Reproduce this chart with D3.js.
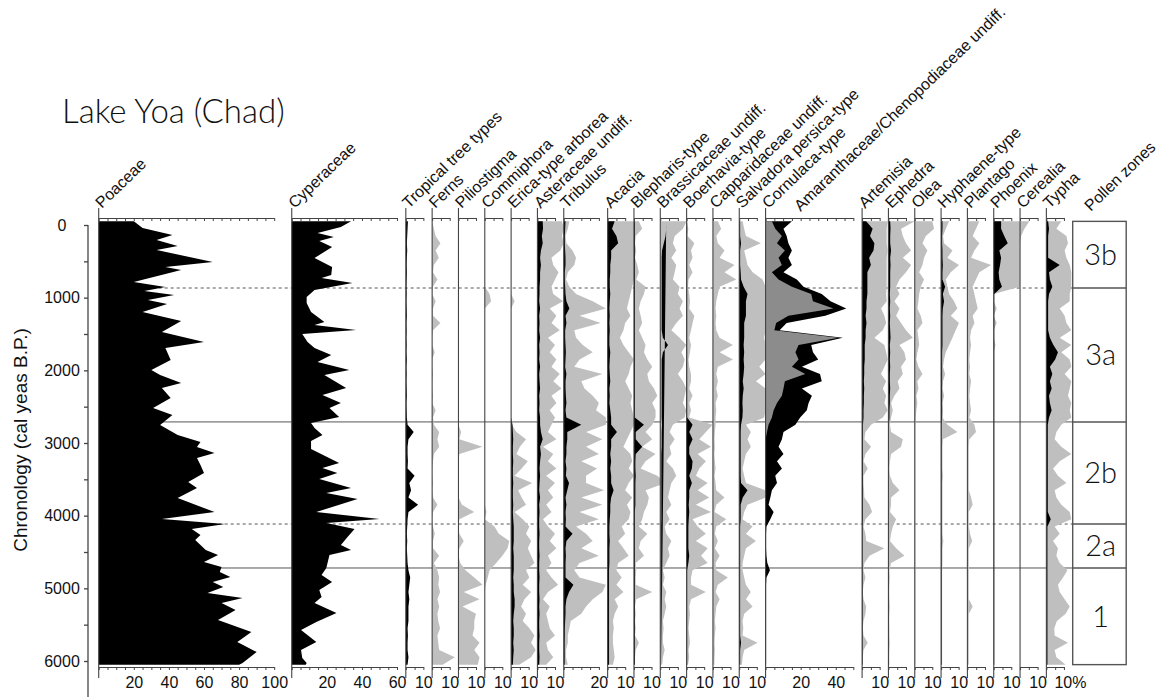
<!DOCTYPE html>
<html>
<head>
<meta charset="utf-8">
<script src="https://d3js.org/d3.v7.min.js"></script>
<style>
body { margin: 0; background: #fff; }
text { font-family: "Liberation Sans", Arial, sans-serif; fill: #111; }
.title, .zone { font-family: Lato, "DejaVu Sans", sans-serif; font-weight: 300; }
</style>
</head>
<body>
<div id="chart"></div>
<script>
// sample ages (cal yr BP) shared by the minor taxa
var ages = [-50,50,150,250,350,450,550,650,750,850,950,1050,1150,1250,1350,1450,1550,1650,1750,1850,1950,2050,2150,2250,2350,2450,2550,2650,2750,2850,2950,3050,3150,3250,3350,3450,3550,3650,3750,3850,3950,4050,4150,4250,4350,4450,4550,4650,4750,4850,4950,5050,5150,5250,5350,5450,5550,5650,5750,5850,5950,6050];

// main taxa have their own (denser) sample ages
var poaAge = [-50,41,138,206,289,344,509,578,619,784,853,908,963,1032,1087,1197,1321,1472,1610,1693,1858,1995,2064,2174,2243,2381,2518,2615,2752,2890,2986,3055,3137,3206,3303,3413,3537,3619,3757,3950,4046,4115,4183,4266,4335,4472,4541,4637,4706,4775,4844,4912,4981,5064,5133,5202,5298,5436,5601,5738,5876,6027,6050];
var poaceae = [20,25,42,33,45,33,65,38,47,20,38,26,43,28,39,25,47,36,60,38,41,30,35,47,36,41,31,42,35,45,58,56,66,56,58,60,51,56,45,66,36,72,53,58,55,61,68,60,70,69,75,65,71,62,82,70,78,68,87,79,90,82,80];

var cypAge = [-50,28,110,165,220,303,454,578,688,729,798,894,991,1073,1197,1335,1376,1445,1500,1610,1693,1789,1885,1995,2064,2243,2339,2449,2518,2642,2725,2793,2890,2972,3082,3275,3344,3413,3495,3619,3688,3770,3950,4046,4101,4183,4293,4403,4472,4541,4720,4816,4912,5023,5119,5202,5339,5463,5573,5738,5848,5958,6027,6050];
var cyperaceae = [33.8,28,14.7,24,15.7,23,13,23,22.5,17,34.6,13,8.5,8.5,11,18.6,13,36.7,6,9,13,22.5,14.7,32.8,18.6,31,17.5,28,21.5,27,11,13,17.5,11,11,27,17.5,26,15.7,33.8,19.7,37.5,14,50,19.7,35.8,31.8,28,33.8,21.5,19.7,17,23,15.7,17,13,25.5,14,5.3,14,5.3,6,8.5,8];

// minor taxa: black = percentage, gray = exaggerated curve
var tropical = [1.2,1,0.8,0.6,0.8,0.6,0.5,0.6,0.5,0.4,0.5,0.4,0.5,0.6,0.4,0.5,0.4,0.5,0.4,0.6,0.4,0.5,0.4,0.5,0.6,0.4,0.5,0.6,1,4.5,1.5,1,1,1.2,1,5,2,3,1.5,7,1.5,1,0.8,0.6,0.8,0.6,0.8,1,1.5,2.5,2,1.5,2,1.5,1.5,1.5,1,1.2,1,1,1.5,1];
var fernsG = [0,1,2,4.7,2,3.8,1,0.5,3,0.5,0,2,0.5,0.5,4.7,0.5,0,0,1.5,0,0,0.5,0,0,0.5,0,2,0.5,1,4,3,4,1,0.5,0,0,0.5,0,0.5,3,0.5,0,0.5,1.5,0.5,0.5,4,1,3,4,3.5,4.5,3,4,3,3.5,4.5,3,3.5,4,13,6];
var pilioG = [0,0,0,0,0,0,0,0,0,0,0,0,0,0,0,0,0,0,0,0,0,0,0,0,0,0,0,0,0,1.5,0.5,13.7,0.5,0,0,0,0,0,0,2,9,0.5,0,0.5,3,0.5,0,1,4,9,13.7,3,12,2.3,10,9,9,8,12,9,12,11];
var commiG = [0,0,0,0,0,0,0,0,0,0,2.7,3.6,0,0,0,0,0,0,0,0,0,0,0,0,0,0,0,0,0,0,0,0,0,0,0,0,0,0,0,0,1,0,5.5,8,14,13,10,6.5,2.7,1.7,0.5,0,0,0,0,0,0,0,0,0,0,0];
var ericaG = [0,0,0,0,0,0,0,0,0,0,0,2,0,0,0,0,0,0,0,0,0,0,0,0,0,0,0,0,0.5,3,8.5,5,3,9.5,6,2,12,4,6,8.5,2,6.6,10.4,8.5,11.4,9.5,11.4,13.3,8.5,10.4,6.6,11.4,7.6,5.7,8.5,6.6,10.4,13.3,11.4,14,11.4,4.7];
var ericaB = [0,0,0,0,0,0,0,0,0,0,0,0,0,0,0,0,0,0,0,0,0,0,0,0,0,0,0,0,0.8,1,1.2,1,1,1.2,1,1,1.2,1,1,1.2,1,1.2,1.5,1.5,1.5,1.2,1.5,1.5,1.5,1.2,1.5,1.5,2,2,1.5,1.2,1.5,1.5,1.2,1.5,1.2,1];
var asterG = [14,15,14,15,13,8,9,12,10,8,9,14.6,7,10.8,8,12.7,6,10,7,10.8,8,12.7,9,13.7,8,10.8,7,10,8,6,10.8,3.2,9,6,10.8,5,10,6,9,5,8,3.2,6,10,7,10.8,6,8,5,8,11.8,6,3.2,7,5,6,7,10,5,6,9,5];
var asterB = [3,3.2,2.5,3,2,1.5,2,1.5,1.5,1.2,1.2,1,1.5,1,1.2,1,1.5,1,1.2,1,1.5,1,1.2,1.5,1,1.2,1,1.5,1.5,2,3,1.5,2,1.5,1.2,1.5,1.2,1,1.5,1,1.2,1,1,1.2,1,1,1.2,1,1,1.2,1,1,1.2,1,1.2,1,1,1.2,1,1,1.2,1];
var tribG = [3.2,2.3,1,1.5,5,7,6,2.3,1.3,3.2,7,16.5,24,9,21,6,7,10.8,16.5,9,6,22,10,11.8,16.5,20,18.4,24,24,12.7,22,12.7,20,10,19,12.7,12.7,23,10,22,9,20,7,12.7,16.5,10,20,9,6,9,24,22,16.5,12.7,10,4,3.2,2.3,2.3,1.3,1.3,2.3];
var tribB = [1,0.8,0.6,0.6,0.8,1,1,0.6,0.6,0.8,1,1.5,3.2,1,1.5,0.8,0.8,1,1.2,1,0.8,1.5,1,1,1.2,1.5,1,1.5,10,2,2,1.5,1.5,1,1.5,1.2,3,2,1,1.5,1,1.2,1,5,1.5,1,1.2,1,1,1,5.5,3,1.5,1,1,0.8,0.6,0.6,0.5,0.5,0.5,0.5];
var acaciaG = [15,15,15,15,15,15,15,15,15,14,13,12,11,13,10,9,7,9,12,15,13,12,10,12,14,13,14,15,15,13,11,9,13,14,12,15,12,10,14,11,13,12,8,10,6,9,12,6,5,8,5,9,4,6,4,3,3.5,3,3,3.5,4,3];
var acaciaB = [4,2.5,5,6,2,2,1.5,1.5,1.2,1.2,1.5,1.2,1,1.2,1,1.2,1,1,1.5,1.2,1,1.2,1.5,1,1.2,1,1.5,2,2,5.3,2,2,1.5,2,1.5,2,2,3.4,2,1.5,1.5,1.2,1,1,1.2,1,1,1,0.8,0.8,0.8,0.8,0.8,0.8,0.8,0.8,0.8,0.8,0.8,0.8,0.8,0.8];
var blephG = [2.8,4.7,1,0.6,1.3,0.6,1.9,2.8,1.3,6.6,5.7,3.8,2.8,3.8,4.7,2.8,4.7,6.6,5.7,7.6,10.4,7.6,8.5,11.4,13.3,10.4,12.3,12.3,10.4,6.6,10.4,4.7,12.3,6.6,3.8,13.3,18,6.6,8.5,7.6,5.7,4.7,2.8,7.6,3.8,2.8,5.7,1,1.3,1,1,10.4,1.3,0.6,1,0.6,1,0.6,2.8,1,0.6,0.6];
var blephB = [0.5,0.5,0.5,0.5,0.5,0.5,0.5,0.5,0.5,0.5,0.5,0.5,0.5,0.5,0.5,0.5,0.5,0.5,0.5,0.5,0.5,0.5,0.5,0.5,0.5,0.5,0.5,0.5,5.7,1,1,4.7,1,0.8,0.8,1,0.8,0.8,0.8,0.8,0.5,0.5,0.5,0.5,0.5,0.5,0.5,0.5,0.5,0.5,0.5,0.5,0.5,0.5,0.5,0.5,0.5,0.5,0.5,0.5,0.5,0.5];
var brassG = [15,12.9,8.2,7.2,9.1,6.3,9.1,8.2,7.2,11,10,12.9,11,12.9,9.1,6.3,11,14.8,12,13.9,12.9,10,12.9,14.8,13.9,12.9,14.8,13.9,7.2,5.3,8.2,5.3,6.3,3.4,7.2,9.1,6.3,5.3,4.4,6.3,3.4,5.3,2.5,3.4,6.3,4.4,5.3,3.4,1.5,2.5,1.5,3.4,2.5,3.4,2.5,1.5,1.9,1.5,1.5,2.5,1.5,1.1];
var brassB = [3.4,3.4,3,2,1,0.8,0.8,0.8,0.8,0.8,0.8,0.8,0.8,0.8,0.8,0.8,1.5,4.4,1.5,0.8,0.8,0.8,0.8,0.8,0.8,0.8,0.8,0.8,1,0.8,0.8,0.8,0.6,0.6,0.6,0.6,0.6,0.6,0.6,0.6,0.6,0.6,0.5,0.5,0.5,0.5,0.5,0.5,0.5,0.5,0.5,0.5,0.5,0.5,0.5,0.5,0.5,0.5,0.5,0.5,0.5,0.5,0.5,0.5];
var boerG = [0,1,0.5,4.4,2.5,3.4,1.5,3.4,1.1,0.8,1.5,1.9,1.5,4.4,3.4,2.5,1.5,2.5,1.9,1.1,1.5,2.5,2.5,1.5,3.4,1.5,2.5,1.5,14.8,11,7.2,13.9,6.3,11,7.2,5.3,12,6.3,12.9,5.3,13.9,3.4,6.3,11,5.3,12,8.2,12,3.4,2.5,2.5,11,2.5,1.5,1.9,1.5,1.1,1.5,1.9,1.1,1.5,0.8];
var boerB = [0.3,0.3,0.3,0.3,0.3,0.3,0.3,0.3,0.3,0.3,0.3,0.3,0.3,0.3,0.3,0.3,0.3,0.3,0.3,0.3,0.3,0.3,0.3,0.3,0.3,0.3,0.3,0.3,3.4,1.5,3.4,1.5,1.5,3.4,3,1.5,3,1.5,1.5,1.2,1.5,1.2,1,1,1,1,1.5,1,0.3,0.3,0.3,0.3,0.3,0.3,0.3,0.3,0.3,0.3,0.3,0.3,0.3,0.3];
var capG = [2.8,4.7,1.9,2.8,6.6,3.8,12.3,6.6,13.3,3.8,2.8,1.9,1.5,1.9,1.5,1.9,3.8,11.4,3.8,11.4,2.8,1.9,2.8,1.9,2.8,1.5,1.9,1.5,1.5,1.1,0.9,1.1,0.8,1.1,1.5,0.9,1.5,1.9,6.6,1.9,0.9,7.6,1.9,1.1,2.8,1.1,3.8,1.5,1.9,8.5,2.8,1.5,3.8,1.9,1.5,1.1,1.5,1.1,0.9,1.1,0.9,0.8];
var salvG = [1.9,2.8,3.8,12.3,2.8,3.8,4.7,7.6,13.3,15,15,15,15,15,15,15,14.2,15,15,15,11.4,15,9.5,15,15,15,15,14.2,3.8,6.6,4.7,6.6,3.8,2.8,1.9,2.8,3.8,15,15,4.7,2.8,1.9,7.6,3.8,9.5,3.8,2.8,1.9,1.9,2.8,3.8,6.6,3.8,7.6,2.8,1.9,2.3,1.9,10.4,2.8,1.9,1.5];
var salvB = [0.5,0.5,0.5,1,0.5,0.5,0.5,0.8,1,2.5,4.7,3.8,3.8,3.8,2.8,2.8,2.8,2.5,2.8,2.5,2.8,2.5,2,2.5,2,1.8,2,1.8,1,0.8,0.8,0.8,0.8,0.8,0.8,0.8,1,4.7,2,0.8,0.8,0.8,0.5,0.5,0.5,0.5,0.5,0.5,0.5,0.5,0.5,0.5,0.5,0.5,0.5,0.5,0.5,0.5,1,0.5,0.5,0.5];
// Cornulaca-type (dark gray) and cumulative Cornulaca + Amaranthaceae/Chenopodiaceae (black)
var cornulaca = [3.6,5.5,9.3,6.5,11,7.4,9.3,3.6,7.4,15,26,27,38.7,13,6,5,41.5,18.8,17,18.8,15,22.6,11,10.2,9.3,6.5,4.6,3.6,1.7,0.8,0,0,0,0,0,0,0,0,0,0,0,0,0,0,0,0,0,0,0,0,0,0,0,0,0,0,0,0,0,0,0,0];
var chenoSum = [15,10.2,12,13,15,13,15,10.2,17.8,21.6,32,37,46,34,12,8,44,26,27,30,20.7,31,32,20.7,26.4,24.5,23.5,19.7,17,10.2,9.3,7.4,10.2,6.5,9.3,5.5,6.5,3.6,2.7,1.7,4.6,2.7,0.5,0.3,0.3,0.3,0.5,1,2.5,0.5,0.3,0.3,0.3,0.3,0.3,0.3,0.3,0.3,0.3,0.3,0.3,0.3];
var artG = [14.6,14,14,14,14.5,14,14,14,14,14,13.7,14,10.8,12.7,13.7,11.8,7,12.7,13.7,14.6,12.7,10.8,13.7,11.8,13.7,12.7,14.6,11.8,5.1,1.9,1.3,5.1,1.9,0.8,3.2,0.8,0.8,1.1,1.3,4.2,5.7,1.9,0.8,1.9,2.3,12.7,4.2,1.3,0.8,1.9,0.8,0.4,0.8,2.3,1.9,0.8,0.4,0.8,3.2,0.8,0.4,0.4];
var artB = [2.3,6,4.5,7,6.5,4,5,3,3,3,3,2.5,2.5,2,2.5,2,2,1.5,1.5,1.5,1.2,1.2,1,1.2,1,1,0.8,0.8,0.5,0.5,0.5,0.5,0.5,0.5,0.5,0.5,0.5,0.5,0.5,0.5,0.5,0.5,0.3,0.3,0.3,0.3,0.3,0.3,0.3,0.3,0.3,0.3,0.3,0.3,0.3,0.3,0.3,0.3,0.3,0.3,0.3,0.3];
var ephG = [15,7.2,8.2,10,12.9,8.2,12.9,10,6.3,4.4,6.3,3.4,6.3,4.4,7.2,10,13.9,6.3,9.1,10,7.2,8.2,5.3,6.3,3.4,1.5,2.5,1.5,0.9,1.5,8.2,7.2,1.5,0.9,0.6,0.9,2.5,6.3,1.5,1.5,0.9,4.4,2.5,1.5,0.9,4.4,9.1,1.5,0.6,0.8,0.6,0.5,0.6,0.8,0.6,0.5,0.6,0.6,0.8,0.6,0.5,0.6];
var ephB = [1,1.2,1,1,1.5,1,1.2,1,1,1,0.8,1,0.8,1,0.8,1,1.2,0.8,1,0.8,1,0.8,0.8,1,0.8,0.8,0.6,0.6,0.3,0.3,0.3,0.3,0.3,0.3,0.3,0.3,0.3,0.3,0.3,0.3,0.3,0.3,0.3,0.3,0.3,0.3,0.3,0.3,0.3,0.3,0.3,0.3,0.3,0.3,0.3,0.3,0.3,0.3,0.3,0.3,0.3,0.3];
var oleaG = [10,11,6.3,4.4,7.2,5.3,4.4,2.5,5.3,3.4,2.5,2.1,1.5,3.4,4.4,1.5,2.1,2.5,1.5,0.9,2.1,4.4,1.5,2.1,0.9,1.5,0.9,0.6,0.4,0.4,0.4,0.4,0.4,0.4,0.4,0.4,0.4,0.4,0.4,0.4,0.4,0.4,0.4,0.4,0.4,0.4,0.4,0.4,0.4,0.4,0.4,0.4,0.4,0.4,0.4,0.4,0.4,0.4,0.4,0.4,0.4,0.4];
var hyphG = [4.6,2.7,1.1,1.7,6.5,3.6,10.2,5.5,2.7,3.6,4.6,7.4,9.3,5.5,10.2,8.3,6.5,4.6,2.7,1.7,1.1,2.3,1.1,0.8,1.7,0.8,1.1,0.8,3.6,9.3,1.1,0.8,0.8,0.8,0.8,1.1,0.8,0.8,0.8,0.8,0.8,0.8,0.8,0.8,1.3,0.8,0.8,0.8,0.6,0.6,0.6,0.6,0.6,0.6,0.6,0.6,0.6,0.6,0.6,0.6,0.6,0.6];
var hyphB = [0.8,0.8,0.6,0.6,0.8,0.8,1,0.8,0.8,2.3,1,1.7,1,0.8,0.8,0.8,0.8,0.8,0.6,0.6,0.6,0.6,0.6,0.6,0.6,0.6,0.6,0.6,0.3,0.3,0.3,0.3,0.3,0.3,0.3,0.3,0.3,0.3,0.3,0.3,0.3,0.3,0.3,0.3,0.3,0.3,0.3,0.3,0.3,0.3,0.3,0.3,0.3,0.3,0.3,0.3,0.3,0.3,0.3,0.3,0.3,0.3];
var plantG = [6.8,4.9,3,6.8,4,2.1,13.5,6.8,4.9,3,4,4.9,5.9,3,4,2.1,1.5,2.1,1.5,1.1,1.5,1.1,2.1,1.5,1.1,1.5,2.1,1.1,4,4.9,1.1,0.8,0.8,0.8,0.8,0.8,0.8,0.8,2.1,3,0.8,0.8,0.8,1.5,2.7,0.8,0.8,0.8,0.8,0.8,0.8,0.8,0.8,3,0.8,0.8,0.8,0.8,0.8,0.8,0.8,0.8];
var phoenG = [15,15,15,15,15,15,15,15,15,15,0,0,1.7,0,1.7,0,0,1,0,0,0,0,0,0,0,0,0,0,0,0,0,0,0,0,0,0,0,0,0,0,0,0,0,0,0,0,0,0,0,0,0,0,0,0,0,0,0,0,0,0,0,0];
var phoenB = [4.2,4.2,6,8,3.2,4.2,3.6,2.8,3.2,4.7,0.3,0.3,0.3,0.3,0.3,0.3,0.3,0.3,0.3,0.3,0.3,0.3,0.3,0.3,0.3,0.3,0.3,0.3,0.3,0.3,0.3,0.3,0.3,0.3,0.3,0.3,0.3,0.3,0.3,0.3,0.3,0.3,0.3,0.3,0.3,0.3,0.3,0.3,0.3,0.3,0.3,0.3,0.3,0.3,0.3,0.3,0.3,0.3,0.3,0.3,0.3,0.3];
var cerG = [5.3,2.5,0.6,0,0,0,0,0,0,0,0,0,0,0,0,0,0,0,0,0,0,0,0,0,0,0,0,0,0,0,0,0,0,0,0,0,0,0,0,0,0,0,0,0,0,0,0,0,0,0,0,0,0,0,0,0,0,0,0,0,0,0];
var typhaG = [8.5,5.7,11.4,12.3,10.4,11.4,13.3,14.2,14.2,14.2,13.3,13.3,7.6,10.4,11.4,14.2,7.6,14.2,8.5,13.3,14.2,10.4,14.2,13.3,12.3,14.2,13.3,14.2,8.5,5.7,4.7,8.5,14.2,7.6,3.8,6.6,11.4,4.7,5.7,8.5,13.3,14.2,4.7,7.6,3.8,6.6,5.7,7.6,12,9.5,6.6,7.6,10.4,13.3,11,6,4.5,4.7,12.3,4.7,5.7,11];
var typhaB = [1,1.5,1,1,1,1,7.6,1.5,2,3.4,1.5,1,1,1,1,1,2,4,6.6,5,2,3.4,2,3,1.5,2,3,1.5,0.8,0.8,0.8,0.8,0.8,0.8,0.8,0.8,0.8,0.8,0.8,0.8,0.8,2.5,0.6,0.6,0.6,0.6,0.6,0.6,0.6,0.6,0.6,0.6,0.6,0.6,0.6,0.6,0.6,0.6,0.6,0.6,0.6,0.6];

// tick labels and zones
var poaTicks = [20,40,60,80,100];
var cypTicks = [20,40,60];
var tribTicks = [20];
var chenoTicks = [20,40];
var smallTicks = [10];
var zoneNames = ["3b","3a","2b","2a","1"];
var zoneBounds = [-50,867,2710,4115,4720,6050];
var zoneDashed = [true,false,true,false];
var yTicks = [0,1000,2000,3000,4000,5000,6000];

var width = 1164, height = 697;
var svg = d3.select("#chart").append("svg")
            .attr("width", width)
            .attr("height", height);

var y = d3.scaleLinear().domain([0, 6000]).range([225, 661]);
var xp = d3.scaleLinear().domain([0, 555]).range([98.7, 1072.7]);

var panels = [
  {label: "Poaceae", max: 100, slot: 110, ages: poaAge, black: poaceae, ticks: poaTicks},
  {label: "Cyperaceae", max: 60, slot: 65, ages: cypAge, black: cyperaceae, ticks: cypTicks},
  {label: "Tropical tree types", black: tropical},
  {label: "Ferns", gray: fernsG},
  {label: "Piliostigma", gray: pilioG},
  {label: "Commiphora", gray: commiG},
  {label: "Erica-type arborea", gray: ericaG, black: ericaB},
  {label: "Asteraceae undiff.", gray: asterG, black: asterB},
  {label: "Tribulus", max: 20, slot: 25, gray: tribG, black: tribB, ticks: tribTicks},
  {label: "Acacia", gray: acaciaG, black: acaciaB},
  {label: "Blepharis-type", gray: blephG, black: blephB},
  {label: "Brassicaceae undiff.", gray: brassG, black: brassB},
  {label: "Boerhavia-type", gray: boerG, black: boerB},
  {label: "Capparidaceae undiff.", gray: capG},
  {label: "Salvadora persica-type", gray: salvG, black: salvB},
  {label: "Cornulaca-type", label2: "Amaranthaceae/Chenopodiaceae undiff.", max: 50, slot: 55, black: chenoSum, dark: cornulaca, ticks: chenoTicks},
  {label: "Artemisia", gray: artG, black: artB},
  {label: "Ephedra", gray: ephG, black: ephB},
  {label: "Olea", gray: oleaG},
  {label: "Hyphaene-type", gray: hyphG, black: hyphB},
  {label: "Plantago", gray: plantG},
  {label: "Phoenix", gray: phoenG, black: phoenB},
  {label: "Cerealia", gray: cerG},
  {label: "Typha", gray: typhaG, black: typhaB, pct: true}
];

var off = 0;
panels.forEach(function(p) {
  p.max = p.max || 10;
  p.slot = p.slot || 15;
  p.ages = p.ages || ages;
  p.ticks = p.ticks || smallTicks;
  p.x = d3.scaleLinear().domain([0, p.max]).range([xp(off), xp(off + p.max)]);
  off += p.slot;
});

function areaPath(p, vals) {
  return d3.area()
           .y(function(d, i) { return y(p.ages[i]); })
           .x0(p.x(0))
           .x1(function(d) { return p.x(d); })(vals);
}

// zone boundary lines (behind the curves)
var boxX = xp(555);
svg.selectAll(".zline")
   .data(zoneBounds.slice(1, 5))
   .enter().append("line")
   .attr("x1", xp(0)).attr("x2", boxX)
   .attr("y1", function(d) { return y(d); })
   .attr("y2", function(d) { return y(d); })
   .attr("stroke", "#555")
   .attr("stroke-width", 1)
   .attr("stroke-dasharray", function(d, i) { return zoneDashed[i] ? "3,3" : null; });

// exaggeration curves
panels.forEach(function(p) {
  if (p.gray) svg.append("path").attr("d", areaPath(p, p.gray)).attr("fill", "#bfbfbf");
});
panels.forEach(function(p) {
  if (p.black) svg.append("path").attr("d", areaPath(p, p.black)).attr("fill", "#000");
  if (p.dark) svg.append("path").attr("d", areaPath(p, p.dark)).attr("fill", "#8c8c8c");
});

// panel axes
panels.forEach(function(p) {
  var x0 = p.x(0);
  svg.append("line")
     .attr("x1", x0).attr("x2", x0)
     .attr("y1", 208).attr("y2", 678)
     .attr("stroke", "#444").attr("stroke-width", 1.1);

  var tv = d3.range(0, p.max + 0.01, 5);
  var topAxis = d3.axisBottom(p.x).tickValues(tv).tickSize(3).tickSizeOuter(0).tickFormat("");
  svg.append("g")
     .attr("transform", "translate(0,218)")
     .call(topAxis)
     .call(function(g) { g.selectAll("path,line").attr("stroke", "#444"); });

  var botAxis = d3.axisBottom(p.x).tickValues(tv).tickSize(3).tickSizeOuter(0).tickPadding(7)
                  .tickFormat(function(d) {
                    if (p.ticks.indexOf(d) < 0) return "";
                    return p.pct ? d + "%" : d;
                  });
  svg.append("g")
     .attr("transform", "translate(0,667)")
     .call(botAxis)
     .call(function(g) {
        g.selectAll("path,line").attr("stroke", "#444");
        g.selectAll("text").attr("font-size", 16).attr("fill", "#111")
         .attr("font-family", "Liberation Sans, Arial, sans-serif")
         .attr("dx", p.pct ? 6 : 0);
     });

  svg.append("text")
     .attr("transform", "translate(" + (x0 + 3) + ",209) rotate(-44)")
     .attr("font-size", 16)
     .text(p.label);
  if (p.label2) {
    svg.append("text")
       .attr("transform", "translate(" + (x0 + 35) + ",212) rotate(-44)")
       .attr("font-size", 16)
       .text(p.label2);
  }
});

// pollen zone box
svg.append("rect")
   .attr("x", boxX).attr("y", y(zoneBounds[0]))
   .attr("width", 53.5).attr("height", y(zoneBounds[5]) - y(zoneBounds[0]))
   .attr("fill", "none").attr("stroke", "#555").attr("stroke-width", 1.4);
svg.selectAll(".zsep")
   .data(zoneBounds.slice(1, 5))
   .enter().append("line")
   .attr("x1", boxX).attr("x2", boxX + 53.5)
   .attr("y1", function(d) { return y(d); })
   .attr("y2", function(d) { return y(d); })
   .attr("stroke", "#555").attr("stroke-width", 1.4);
svg.selectAll(".zone")
   .data(zoneNames)
   .enter().append("text")
   .attr("class", "zone")
   .attr("x", boxX + 28)
   .attr("y", function(d, i) { return (y(zoneBounds[i]) + y(zoneBounds[i + 1])) / 2; })
   .attr("dy", "0.36em")
   .attr("text-anchor", "middle")
   .attr("font-size", 29)
   .text(function(d) { return d; });
svg.append("text")
   .attr("transform", "translate(" + (boxX + 18) + ",212) rotate(-44)")
   .attr("font-size", 16)
   .text("Pollen zones");

// chronology axis
svg.append("line")
   .attr("x1", 88).attr("x2", 88)
   .attr("y1", y(0)).attr("y2", 697)
   .attr("stroke", "#444").attr("stroke-width", 1.3);
var yAxis = d3.axisLeft(y).tickValues(d3.range(0, 6501, 500)).tickSize(4).tickSizeOuter(0)
              .tickFormat(function(d) { return yTicks.indexOf(d) >= 0 ? d : ""; });
svg.append("g")
   .attr("transform", "translate(88,0)")
   .call(yAxis)
   .call(function(g) {
      g.select(".domain").remove();
      g.selectAll("line").attr("stroke", "#444").attr("stroke-width", 1.3);
      g.selectAll("text").attr("font-size", 16).attr("fill", "#111")
       .attr("font-family", "Liberation Sans, Arial, sans-serif")
       .attr("text-anchor", "middle").attr("x", -26);
   });

svg.append("text")
   .attr("transform", "translate(27,440) rotate(-90)")
   .attr("text-anchor", "middle")
   .attr("font-size", 19)
   .text("Chronology (cal yeas B.P.)");

svg.append("text")
   .attr("class", "title")
   .attr("x", 62).attr("y", 123)
   .attr("font-size", 33)
   .text("Lake Yoa (Chad)");
</script>
</body>
</html>
